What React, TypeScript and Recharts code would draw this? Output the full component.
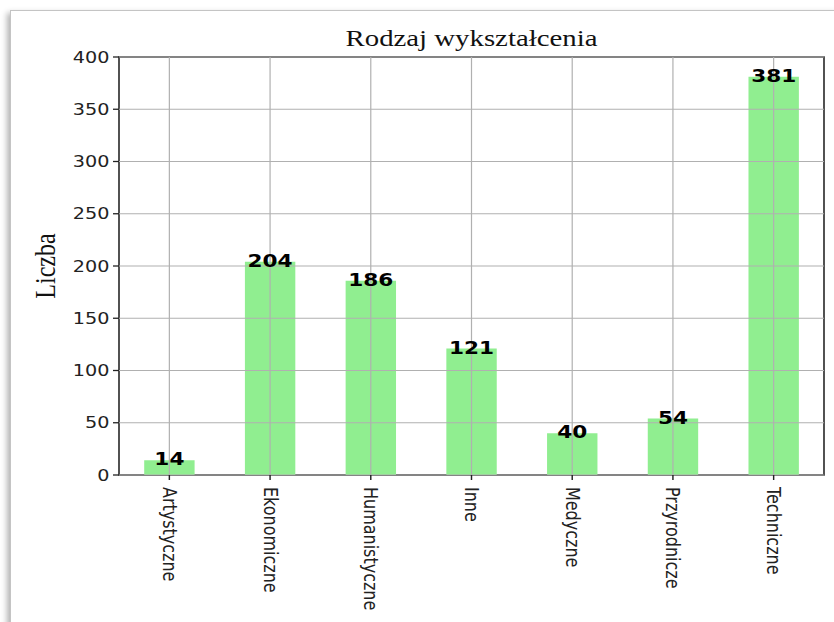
import { BarChart, Bar, XAxis, YAxis, ReferenceLine, ReferenceArea, LabelList } from 'recharts';

const categories = ['Artystyczne', 'Ekonomiczne', 'Humanistyczne', 'Inne', 'Medyczne', 'Przyrodnicze', 'Techniczne'];
const counts = [14, 204, 186, 121, 40, 54, 381];
const yTicks = [0, 50, 100, 150, 200, 250, 300, 350, 400];

const data = categories.map((name, i) => ({ name, count: counts[i] }));

// the reference picture is stretched sideways, so the whole chart is drawn narrower and scaled back
const SX = 1.2;
const W = 834 / SX;
const H = 622;
const PLOT_LEFT = 119 / SX;
const PLOT_RIGHT = 824 / SX;

function XTick({ x, y, payload }: any) {
  return (
    <g transform={`translate(${x},${y})`}>
      <text
        transform="rotate(90)"
        x={5}
        y={0}
        textAnchor="start"
        dominantBaseline="central"
        fontFamily="DejaVu Sans"
        fontSize={16}
        fill="#222"
      >
        {payload.value}
      </text>
    </g>
  );
}

export default function App() {
  return (
    <div style={{ position: 'absolute', left: 0, top: 0, width: 834, height: 622, overflow: 'hidden', background: '#fff' }}>
      <div
        style={{
          position: 'absolute',
          left: 10,
          top: 10,
          width: 860,
          height: 660,
          border: '1px solid #c4c4c4',
          boxShadow: '-3px 3px 6px rgba(0,0,0,0.3)',
          background: '#fff',
        }}
      />
      <div
        style={{
          position: 'absolute',
          left: 0,
          top: 0,
          width: W,
          height: H,
          transform: `scaleX(${SX})`,
          transformOrigin: '0 0',
        }}
      >
        <div
          style={{
            position: 'absolute',
            left: (PLOT_LEFT + PLOT_RIGHT) / 2,
            top: 26,
            transform: 'translateX(-50%)',
            whiteSpace: 'nowrap',
            fontFamily: 'Liberation Serif',
            fontSize: 24,
            lineHeight: '24px',
            color: '#111',
          }}
        >
          Rodzaj wykształcenia
        </div>
        <div
          style={{
            position: 'absolute',
            left: 45 / SX,
            top: 266,
            transform: 'translate(-50%,-50%) rotate(-90deg)',
            whiteSpace: 'nowrap',
            fontFamily: 'Liberation Serif',
            fontSize: 24,
            lineHeight: '24px',
            color: '#111',
          }}
        >
          Liczba
        </div>
        <BarChart
          width={W}
          height={H}
          data={data}
          margin={{ top: 57, right: W - PLOT_RIGHT, bottom: 0, left: PLOT_LEFT - 60 }}
        >
          <XAxis
            dataKey="name"
            type="category"
            height={147}
            axisLine={false}
            tickSize={5}
            tickMargin={2}
            tickLine={{ stroke: '#222', strokeWidth: 1.2 }}
            tick={<XTick />}
            interval={0}
          />
          <YAxis
            type="number"
            domain={[0, 400]}
            ticks={yTicks}
            width={60}
            axisLine={false}
            tickSize={5}
            tickMargin={3}
            tickLine={{ stroke: '#222', strokeWidth: 1.3 }}
            tick={{ fill: '#222', fontSize: 16, fontFamily: 'DejaVu Sans' }}
          />
          <Bar dataKey="count" fill="#90EE90" barSize={42} isAnimationActive={false}>
            <LabelList
              dataKey="count"
              position="top"
              offset={-5}
              fill="#000"
              fontSize={18}
              fontWeight="bold"
              fontFamily="DejaVu Sans"
            />
          </Bar>
          {categories.map((c) => (
            <ReferenceLine key={'v' + c} x={c} stroke="#b0b0b0" strokeWidth={1} />
          ))}
          {yTicks.map((t) => (
            <ReferenceLine key={'h' + t} y={t} stroke="#b0b0b0" strokeWidth={1.2} />
          ))}
          <ReferenceArea y1={0} y2={400} fill="none" fillOpacity={0} stroke="#222" strokeWidth={1.3} />
        </BarChart>
      </div>
    </div>
  );
}
